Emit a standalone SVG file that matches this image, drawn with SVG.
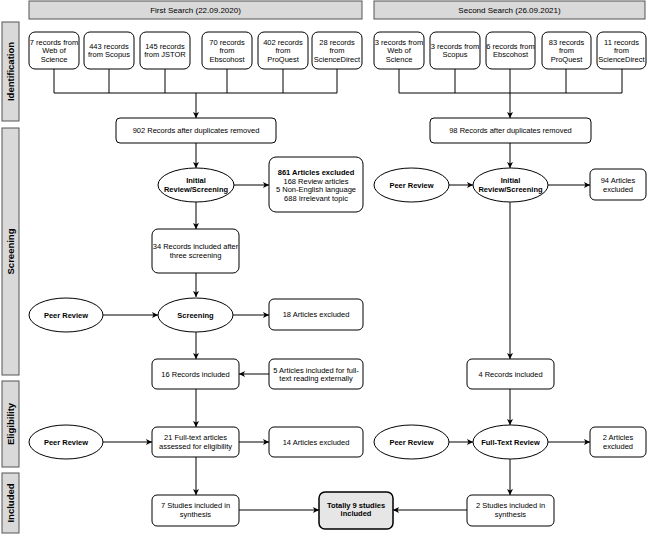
<svg xmlns="http://www.w3.org/2000/svg" width="648" height="537" viewBox="0 0 648 537">
<style>
.b{fill:#fff;stroke:#000;stroke-width:1}
.h{fill:#d9d9d9;stroke:#555;stroke-width:1}
.t{font-family:"Liberation Sans",Arial,sans-serif;font-size:7.5px;text-anchor:middle;fill:#000}
.bt{font-weight:bold}
.s{font-family:"Liberation Sans",Arial,sans-serif;font-size:9.5px;font-weight:bold;text-anchor:middle;fill:#000}
.c{fill:none;stroke:#000;stroke-width:1}
.a{fill:none;stroke:#000;stroke-width:1;marker-end:url(#ar)}
</style>
<defs>
<marker id="ar" markerUnits="userSpaceOnUse" markerWidth="7" markerHeight="7" refX="6" refY="3.5" orient="auto">
<path d="M0,0.5 L6,3.5 L0,6.5 L1.5,3.5 z" fill="#000"/>
</marker>
</defs>
<rect width="648" height="537" fill="#fff"/>

<g id="headers">
<rect class="h" x="29" y="1" width="333" height="18"/>
<text class="t" x="195.5" y="13" style="font-size:8px">First Search (22.09.2020)</text>
<rect class="h" x="374" y="1" width="271" height="18"/>
<text class="t" x="509.5" y="13" style="font-size:8px">Second Search (26.09.2021)</text>
</g>

<g id="phases">
<rect class="h" x="2" y="22" width="17" height="99"/>
<text class="s" transform="translate(14,71.5) rotate(-90)">Identification</text>
<rect class="h" x="2" y="128" width="17" height="247"/>
<text class="s" transform="translate(14,251.5) rotate(-90)">Screening</text>
<rect class="h" x="2" y="381" width="17" height="86"/>
<text class="s" transform="translate(14,424) rotate(-90)">Eligibility</text>
<rect class="h" x="2" y="473" width="17" height="60"/>
<text class="s" transform="translate(14,503) rotate(-90)">Included</text>
</g>

<g id="connectors">
<path class="c" d="M54,69 V93 M109,69 V93 M165,69 V93 M227,69 V93 M283,69 V93 M337,69 V93 M54,93 H337"/>
<path class="a" d="M196,93 V118"/>
<path class="c" d="M399,69 V93 M455,69 V93 M566,69 V93 M622,69 V93 M399,93 H622"/>
<path class="a" d="M510,69 V118"/>
<path class="a" d="M196,143 V168"/>
<path class="a" d="M233,185 H269"/>
<path class="a" d="M196,202 V229"/>
<path class="a" d="M196,273 V297"/>
<path class="a" d="M103,315 H158"/>
<path class="a" d="M233,315 H269"/>
<path class="a" d="M196,332 V359"/>
<path class="a" d="M269,374 H239"/>
<path class="a" d="M196,389 V427"/>
<path class="a" d="M103,442 H152"/>
<path class="a" d="M239,442 H269"/>
<path class="a" d="M196,457 V495"/>
<path class="a" d="M239,510 H319"/>
<path class="a" d="M510,143 V168"/>
<path class="a" d="M449,185 H473"/>
<path class="a" d="M548,185 H590"/>
<path class="a" d="M510,202 V359"/>
<path class="a" d="M510,389 V425"/>
<path class="a" d="M449,442 H473"/>
<path class="a" d="M548,442 H590"/>
<path class="a" d="M510,459 V495"/>
<path class="a" d="M467,510 H393"/>
</g>

<g id="s1-wos"><rect class="b" x="29" y="32" width="50" height="37" rx="6"/>
<text class="t" x="54" y="44.5">7 records from</text><text class="t" x="54" y="53.2">Web of</text><text class="t" x="54" y="61.9">Science</text></g>
<g id="s1-scopus"><rect class="b" x="84" y="32" width="50" height="37" rx="6"/>
<text class="t" x="109" y="48.5">443 records</text><text class="t" x="109" y="57.2">from Scopus</text></g>
<g id="s1-jstor"><rect class="b" x="140" y="32" width="50" height="37" rx="6"/>
<text class="t" x="165" y="48.5">145 records</text><text class="t" x="165" y="57.2">from JSTOR</text></g>
<g id="s1-ebsco"><rect class="b" x="202" y="32" width="50" height="37" rx="6"/>
<text class="t" x="227" y="44.5">70 records</text><text class="t" x="227" y="53.2">from</text><text class="t" x="227" y="61.9">Ebscohost</text></g>
<g id="s1-proquest"><rect class="b" x="258" y="32" width="50" height="37" rx="6"/>
<text class="t" x="283" y="44.5">402 records</text><text class="t" x="283" y="53.2">from</text><text class="t" x="283" y="61.9">ProQuest</text></g>
<g id="s1-sd"><rect class="b" x="312" y="32" width="50" height="37" rx="6"/>
<text class="t" x="337" y="44.5">28 records</text><text class="t" x="337" y="53.2">from</text><text class="t" x="337" y="61.9">ScienceDirect</text></g>

<g id="s2-wos"><rect class="b" x="374" y="32" width="50" height="37" rx="6"/>
<text class="t" x="399" y="44.5">3 records from</text><text class="t" x="399" y="53.2">Web of</text><text class="t" x="399" y="61.9">Science</text></g>
<g id="s2-scopus"><rect class="b" x="430" y="32" width="50" height="37" rx="6"/>
<text class="t" x="455" y="48.5">3 records from</text><text class="t" x="455" y="57.2">Scopus</text></g>
<g id="s2-ebsco"><rect class="b" x="486" y="32" width="49" height="37" rx="6"/>
<text class="t" x="510.5" y="48.5">6 records from</text><text class="t" x="510.5" y="57.2">Ebscohost</text></g>
<g id="s2-proquest"><rect class="b" x="542" y="32" width="49" height="37" rx="6"/>
<text class="t" x="566.5" y="44.5">83 records</text><text class="t" x="566.5" y="53.2">from</text><text class="t" x="566.5" y="61.9">ProQuest</text></g>
<g id="s2-sd"><rect class="b" x="597" y="32" width="49" height="37" rx="6"/>
<text class="t" x="621.5" y="44.5">11 records</text><text class="t" x="621.5" y="53.2">from</text><text class="t" x="621.5" y="61.9">ScienceDirect</text></g>

<g id="dup1"><rect class="b" x="116" y="118" width="160" height="25" rx="4"/>
<text class="t" x="196" y="133.2">902 Records after duplicates removed</text></g>
<g id="dup2"><rect class="b" x="430" y="118" width="161" height="25" rx="4"/>
<text class="t" x="510.5" y="133.2">98 Records after duplicates removed</text></g>

<g id="irs1"><ellipse class="b" cx="196" cy="185" rx="38" ry="17"/>
<text class="t bt" x="196" y="183">Initial</text><text class="t bt" x="196" y="192">Review/Screening</text></g>
<g id="excl861"><rect class="b" x="269" y="157" width="94" height="55" rx="7"/>
<text class="t bt" x="316" y="175">861 Articles excluded</text>
<text class="t" x="316" y="183.7">168 Review articles</text>
<text class="t" x="316" y="192.4">5 Non-English language</text>
<text class="t" x="316" y="201.1">688 Irrelevant topic</text></g>

<g id="pr2a"><ellipse class="b" cx="411.5" cy="185" rx="37.5" ry="17"/>
<text class="t bt" x="411.5" y="187.7">Peer Review</text></g>
<g id="irs2"><ellipse class="b" cx="510.5" cy="185" rx="37.5" ry="17"/>
<text class="t bt" x="510.5" y="183">Initial</text><text class="t bt" x="510.5" y="192">Review/Screening</text></g>
<g id="excl94"><rect class="b" x="590" y="169" width="56" height="31" rx="5"/>
<text class="t" x="618" y="183">94 Articles</text><text class="t" x="618" y="191.7">excluded</text></g>

<g id="rec34"><rect class="b" x="152" y="229" width="87" height="44" rx="6"/>
<text class="t" x="195.5" y="249">34 Records included after</text><text class="t" x="195.5" y="257.7">three screening</text></g>

<g id="pr1a"><ellipse class="b" cx="66" cy="315" rx="37" ry="17"/>
<text class="t bt" x="66" y="317.7">Peer Review</text></g>
<g id="scr1"><ellipse class="b" cx="195.5" cy="315" rx="37.5" ry="17"/>
<text class="t bt" x="195.5" y="317.7">Screening</text></g>
<g id="excl18"><rect class="b" x="269" y="299" width="94" height="31" rx="5"/>
<text class="t" x="316" y="317.2">18 Articles excluded</text></g>

<g id="rec16"><rect class="b" x="152" y="359" width="87" height="30" rx="5"/>
<text class="t" x="195.5" y="376.7">16 Records included</text></g>
<g id="ext5"><rect class="b" x="269" y="359" width="94" height="30" rx="5"/>
<text class="t" x="316" y="372.5">5 Articles included for full-</text><text class="t" x="316" y="381.2">text reading externally</text></g>
<g id="rec4"><rect class="b" x="467" y="359" width="87" height="30" rx="5"/>
<text class="t" x="510.5" y="376.7">4 Records included</text></g>

<g id="pr1b"><ellipse class="b" cx="66" cy="442" rx="37" ry="17"/>
<text class="t bt" x="66" y="444.7">Peer Review</text></g>
<g id="ft21"><rect class="b" x="152" y="427" width="87" height="30" rx="5"/>
<text class="t" x="195.5" y="439.8">21 Full-text articles</text><text class="t" x="195.5" y="448.5">assessed for eligibility</text></g>
<g id="excl14"><rect class="b" x="269" y="427" width="94" height="30" rx="5"/>
<text class="t" x="316" y="444.7">14 Articles excluded</text></g>

<g id="pr2b"><ellipse class="b" cx="411.5" cy="442" rx="37.5" ry="17"/>
<text class="t bt" x="411.5" y="444.7">Peer Review</text></g>
<g id="ftr2"><ellipse class="b" cx="510.5" cy="442" rx="37.5" ry="17"/>
<text class="t bt" x="510.5" y="444.7">Full-Text Review</text></g>
<g id="excl2"><rect class="b" x="590" y="427" width="56" height="30" rx="5"/>
<text class="t" x="618" y="439.8">2 Articles</text><text class="t" x="618" y="448.5">excluded</text></g>

<g id="inc7"><rect class="b" x="152" y="495" width="87" height="31" rx="5"/>
<text class="t" x="195.5" y="508.3">7 Studies included in</text><text class="t" x="195.5" y="517">synthesis</text></g>
<g id="total9"><rect x="319" y="492" width="74" height="37" rx="6" fill="#e6e6e6" stroke="#000" stroke-width="1.5"/>
<text class="t bt" x="356" y="507.5">Totally 9 studies</text><text class="t bt" x="356" y="516.2">included</text></g>
<g id="inc2"><rect class="b" x="467" y="495" width="87" height="31" rx="5"/>
<text class="t" x="510.5" y="508.3">2 Studies included in</text><text class="t" x="510.5" y="517">synthesis</text></g>
</svg>
